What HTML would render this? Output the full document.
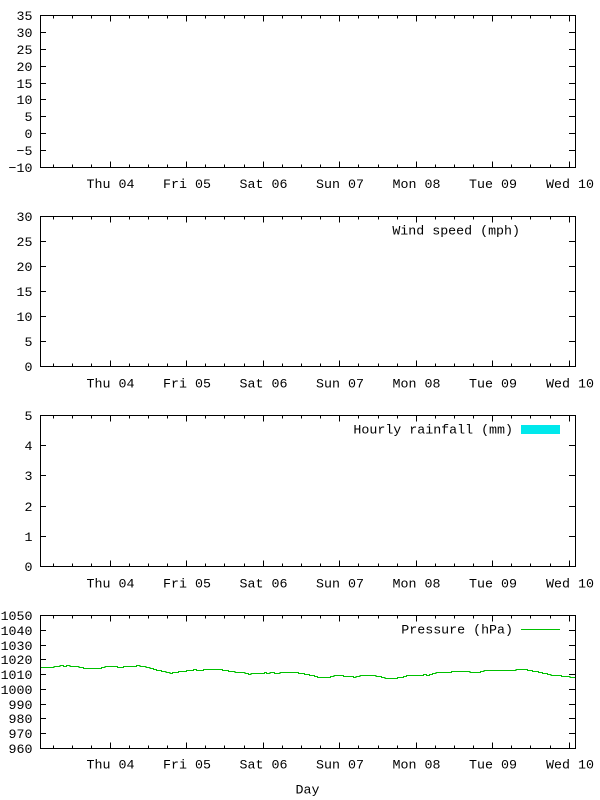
<!DOCTYPE html>
<html>
<head>
<meta charset="utf-8">
<style>
html,body{margin:0;padding:0;background:#fff;}
svg{display:block;}
text{font-family:"Liberation Mono","DejaVu Sans Mono",monospace;font-size:13.3px;fill:#000;}
</style>
</head>
<body>
<svg width="600" height="800" viewBox="0 0 600 800" xmlns="http://www.w3.org/2000/svg">
<defs>
<path id="xb" d="M53.5,0v-3M72.5,0v-3M91.5,0v-3M110.5,0v-6M129.5,0v-3M148.5,0v-3M167.5,0v-3M186.5,0v-6M205.5,0v-3M224.5,0v-3M244.5,0v-3M263.5,0v-6M282.5,0v-3M301.5,0v-3M320.5,0v-3M339.5,0v-6M358.5,0v-3M378.5,0v-3M397.5,0v-3M416.5,0v-6M435.5,0v-3M454.5,0v-3M473.5,0v-3M492.5,0v-6M511.5,0v-3M530.5,0v-3M550.5,0v-3M569.5,0v-6"/>
<path id="xt" d="M53.5,0v3M72.5,0v3M91.5,0v3M110.5,0v6M129.5,0v3M148.5,0v3M167.5,0v3M186.5,0v6M205.5,0v3M224.5,0v3M244.5,0v3M263.5,0v6M282.5,0v3M301.5,0v3M320.5,0v3M339.5,0v6M358.5,0v3M378.5,0v3M397.5,0v3M416.5,0v6M435.5,0v3M454.5,0v3M473.5,0v3M492.5,0v6M511.5,0v3M530.5,0v3M550.5,0v3M569.5,0v6"/>
<g id="xl">
<text x="110.5" y="0" text-anchor="middle">Thu 04</text>
<text x="187" y="0" text-anchor="middle">Fri 05</text>
<text x="263.5" y="0" text-anchor="middle">Sat 06</text>
<text x="340" y="0" text-anchor="middle">Sun 07</text>
<text x="416.5" y="0" text-anchor="middle">Mon 08</text>
<text x="493" y="0" text-anchor="middle">Tue 09</text>
<text x="570" y="0" text-anchor="middle">Wed 10</text>
</g>
</defs>

<g stroke="#000" stroke-width="1" fill="none" shape-rendering="crispEdges">
<!-- Plot 1 -->
<rect x="40.5" y="15.5" width="535" height="152"/>
<use href="#xb" transform="translate(0,167.5)"/>
<use href="#xt" transform="translate(0,15.5)"/>
<path d="M40,32.5h6M40,49.5h6M40,66.5h6M40,83.5h6M40,99.5h6M40,116.5h6M40,133.5h6M40,150.5h6M576,32.5h-7M576,49.5h-7M576,66.5h-7M576,83.5h-7M576,99.5h-7M576,116.5h-7M576,133.5h-7M576,150.5h-7"/>
<!-- Plot 2 -->
<rect x="40.5" y="216.5" width="535" height="150"/>
<use href="#xb" transform="translate(0,366.5)"/>
<use href="#xt" transform="translate(0,216.5)"/>
<path d="M40,241.5h6M40,266.5h6M40,291.5h6M40,316.5h6M40,341.5h6M576,241.5h-7M576,266.5h-7M576,291.5h-7M576,316.5h-7M576,341.5h-7"/>
<!-- Plot 3 -->
<rect x="40.5" y="415.5" width="535" height="151"/>
<use href="#xb" transform="translate(0,566.5)"/>
<use href="#xt" transform="translate(0,415.5)"/>
<path d="M40,445.5h6M40,475.5h6M40,506.5h6M40,536.5h6M576,445.5h-7M576,475.5h-7M576,506.5h-7M576,536.5h-7"/>
<!-- Plot 4 -->
<rect x="40.5" y="615.5" width="535" height="133"/>
<use href="#xb" transform="translate(0,748.5)"/>
<use href="#xt" transform="translate(0,615.5)"/>
<path d="M40,630.5h6M40,645.5h6M40,659.5h6M40,674.5h6M40,689.5h6M40,704.5h6M40,718.5h6M40,733.5h6M576,630.5h-7M576,645.5h-7M576,659.5h-7M576,674.5h-7M576,689.5h-7M576,704.5h-7M576,718.5h-7M576,733.5h-7"/>
</g>

<!-- Y labels -->
<g text-anchor="end">
<text x="32.5" y="20">35</text>
<text x="32.5" y="37">30</text>
<text x="32.5" y="54">25</text>
<text x="32.5" y="71">20</text>
<text x="32.5" y="88">15</text>
<text x="32.5" y="104">10</text>
<text x="32.5" y="121">5</text>
<text x="32.5" y="138">0</text>
<text x="32.5" y="155">−5</text>
<text x="32.5" y="172">−10</text>
<text x="32.5" y="221">30</text>
<text x="32.5" y="246">25</text>
<text x="32.5" y="271">20</text>
<text x="32.5" y="296">15</text>
<text x="32.5" y="321">10</text>
<text x="32.5" y="346">5</text>
<text x="32.5" y="371">0</text>
<text x="32.5" y="420">5</text>
<text x="32.5" y="450">4</text>
<text x="32.5" y="480">3</text>
<text x="32.5" y="511">2</text>
<text x="32.5" y="541">1</text>
<text x="32.5" y="571">0</text>
<text x="32.5" y="620">1050</text>
<text x="32.5" y="635">1040</text>
<text x="32.5" y="650">1030</text>
<text x="32.5" y="664">1020</text>
<text x="32.5" y="679">1010</text>
<text x="32.5" y="694">1000</text>
<text x="32.5" y="709">990</text>
<text x="32.5" y="723">980</text>
<text x="32.5" y="738">970</text>
<text x="32.5" y="753">960</text>
</g>

<!-- X labels -->
<use href="#xl" transform="translate(0,188)"/>
<use href="#xl" transform="translate(0,387.5)"/>
<use href="#xl" transform="translate(0,587.5)"/>
<use href="#xl" transform="translate(0,768.5)"/>

<!-- Legends -->
<text x="520" y="234.5" text-anchor="end">Wind speed (mph)</text>
<text x="513" y="433.5" text-anchor="end">Hourly rainfall (mm)</text>
<rect x="521" y="425" width="39" height="9" fill="rgb(0,232,236)"/>
<text x="513" y="633.5" text-anchor="end">Pressure (hPa)</text>
<path d="M521,629.5H560" stroke="#00c000" stroke-width="1" shape-rendering="crispEdges"/>

<!-- Pressure series -->
<path fill="none" stroke="#00c000" stroke-width="1" shape-rendering="crispEdges" d="M41,667.5 H54 V666.5 H60 V665.5 H63.3 V666.5 H66.7 V665.5 H70 V666.5 H79 V667.5 H83.3 V668.5 H101.7 V667.5 H105 V666.5 H117.3 V667.5 H123.3 V666.5 H136.7 V665.5 H140 V666.5 H146 V667.5 H150 V668.5 H153.3 V669.5 H156.7 V670.5 H161.7 V671.5 H166 V672.5 H170 V673.5 H172.7 V672.5 H178.3 V671.5 H186.7 V670.5 H193.3 V669.5 H196.7 V670.5 H203.3 V669.5 H222.3 V670.5 H228.3 V671.5 H235 V672.5 H245 V673.5 H248.3 V674.5 H251 V673.5 H264.3 V672.5 H266.7 V673.5 H270 V672.5 H274.3 V673.5 H280 V672.5 H298.3 V673.5 H304.3 V674.5 H309.3 V675.5 H314.3 V676.5 H317.7 V677.5 H330.7 V676.5 H334 V675.5 H343.3 V676.5 H353.3 V677.5 H356 V676.5 H360 V675.5 H376 V676.5 H381.7 V677.5 H385 V678.5 H397.3 V677.5 H403.3 V676.5 H406.7 V675.5 H423.3 V674.5 H426.7 V675.5 H429.3 V674.5 H432.7 V673.5 H436 V672.5 H451.7 V671.5 H470 V672.5 H480.7 V671.5 H484 V670.5 H516 V669.5 H527.3 V670.5 H532.7 V671.5 H538.3 V672.5 H542.7 V673.5 H547.7 V674.5 H551 V675.5 H561.7 V676.5 H570 V677.5 H575"/>

<!-- X axis label -->
<text x="307.5" y="793.5" text-anchor="middle">Day</text>
</svg>
</body>
</html>
